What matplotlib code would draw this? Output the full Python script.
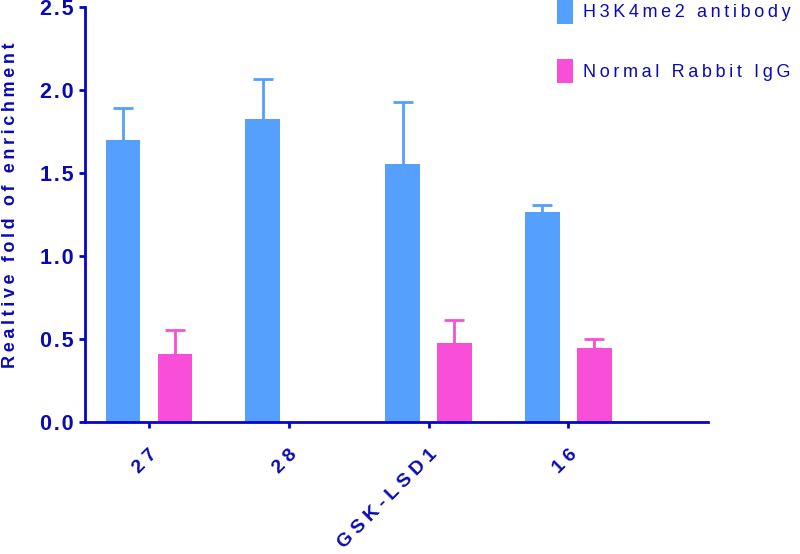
import numpy as np
import matplotlib
matplotlib.use("Agg")
import matplotlib.pyplot as plt
from matplotlib.patches import Patch

# ---- data ----
categories = ["27", "28", "GSK-LSD1", "16"]
series_names = ["H3K4me2 antibody", "Normal Rabbit IgG"]
h3k4_values = [1.70, 1.825, 1.555, 1.265]
h3k4_errors = [0.19, 0.243, 0.375, 0.045]
igg_values = [0.412, None, 0.473, 0.444]
igg_errors = [0.14, None, 0.141, 0.056]
y_ticks = [0.0, 0.5, 1.0, 1.5, 2.0, 2.5]
y_label = "Realtive fold of enrichment"

# ---- style ----
BLUE = "#559FFD"
PINK = "#F94FD8"
AXIS = "#0505C8"
TEXT = "#0A0AB4"
FAM = ["Liberation Sans", "DejaVu Sans"]
THIN = "\u2009"

def spaced(s, sep=THIN):
    return sep.join(list(s))

plt.rcParams["font.family"] = FAM

fig = plt.figure(figsize=(8.0, 5.54), dpi=100)
ax = fig.add_axes([85/800, 1-422/554, (708-85)/800, (422-7)/554])

x = np.arange(len(categories))
width = 0.25
off = 0.186

def to_arr(v):
    return np.array([np.nan if e is None else e for e in v], dtype=float)

series = [(to_arr(h3k4_values), to_arr(h3k4_errors), BLUE, -off),
          (to_arr(igg_values), to_arr(igg_errors), PINK, off)]

for vals, errs, col, dx in series:
    m = ~np.isnan(vals)
    xs = x[m] + dx
    ax.bar(xs, vals[m], width=width, color=col, edgecolor="none", zorder=2)
    ax.errorbar(xs, vals[m], yerr=errs[m], fmt="none",
                ecolor=col, elinewidth=2.0, capsize=7.2, capthick=2.0, zorder=1)

ax.set_xlim(-0.458, 4.0)
ax.set_ylim(0, 2.5)
ax.set_yticks(y_ticks)
ax.set_yticklabels([spaced(f"{t:.1f}", "\u200A") for t in y_ticks],
                   fontsize=15.5, fontweight="bold", color=TEXT)
ax.set_xticks(x)
ax.set_xticklabels([spaced(c, "\u2005") for c in categories], rotation=45,
                   ha="right", va="top", rotation_mode="anchor",
                   fontsize=14, fontweight="bold", color=TEXT)

for s in ["top", "right"]:
    ax.spines[s].set_visible(False)
for s in ["left", "bottom"]:
    ax.spines[s].set_color(AXIS)
    ax.spines[s].set_linewidth(2.0)
ax.tick_params(axis="both", colors=AXIS, width=2.0, length=4.3)
ax.tick_params(axis="y", pad=3.6, labelcolor=TEXT)
ax.tick_params(axis="x", pad=13, labelcolor=TEXT)

ax.set_ylabel(spaced(y_label), fontsize=13, fontweight="bold", color=TEXT)
ax.yaxis.set_label_coords(-0.106, 0.523)

handles = [Patch(facecolor=BLUE, edgecolor="none"),
           Patch(facecolor=PINK, edgecolor="none")]
leg = ax.legend(handles, [spaced(n) for n in series_names],
                loc="upper left", bbox_to_anchor=(557/800, 1.0015),
                bbox_transform=fig.transFigure, frameon=False,
                fontsize=13, handlelength=0.9, handleheight=1.7,
                handletextpad=0.55, labelspacing=1.94, borderpad=0.0,
                borderaxespad=0.0)
for t in leg.get_texts():
    t.set_color(TEXT)

fig.savefig("out.png", dpi=100)
